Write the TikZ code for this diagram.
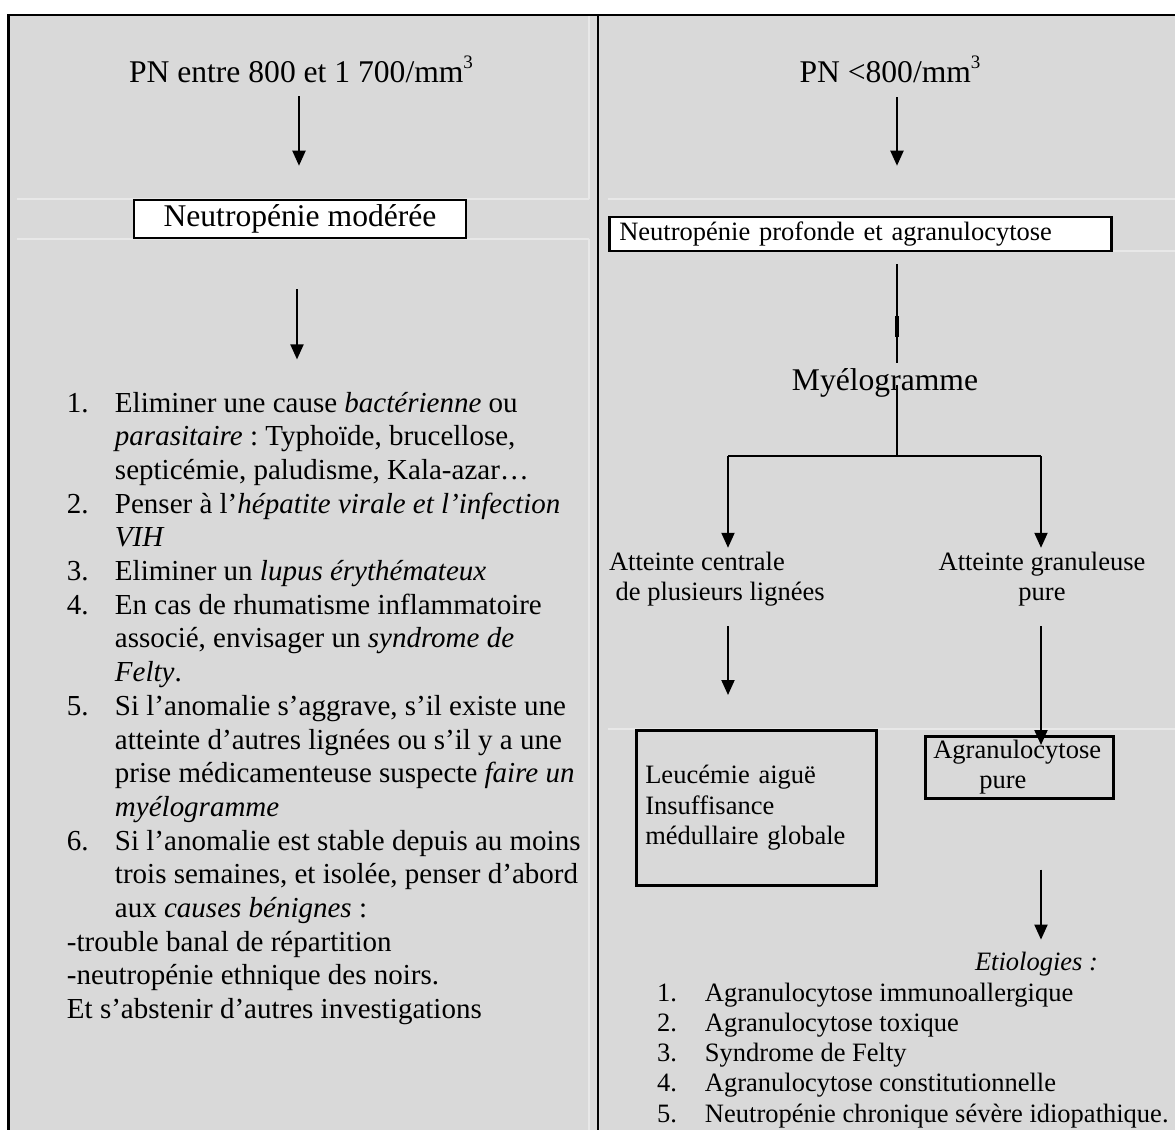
\documentclass[tikz,border=0pt]{standalone}
\usepackage{fontspec}
\setmainfont{Liberation Serif}
\usetikzlibrary{arrows.meta,calc}

\definecolor{cellgray}{HTML}{D9D9D9}
\definecolor{cellline}{HTML}{E8E8E8}
\newcommand{\cubed}{\raisebox{0.42em}{\fontsize{9.5}{9.5}\selectfont 3}}

\begin{document}
\frenchspacing
\begin{tikzpicture}[
  x=0.5pt, y=-0.5pt,
  >={Triangle[length=7.5pt,width=6.5pt]},
  line width=1pt,
  big/.style={inner sep=0pt, font=\fontsize{15.8}{18}\selectfont},
  lst/.style={inner sep=0pt, font=\fontsize{14.5}{16.85}\selectfont},
  sml/.style={inner sep=0pt, font=\fontsize{13.25}{15.15}\selectfont},
  box/.style={draw, line width=1.3pt},
  arr/.style={->, line width=1pt},
  faint/.style={draw=cellline, line width=0.6pt},
]
  \useasboundingbox (0,0) rectangle (1175,1130);
  \clip (0,0) rectangle (1175,1130);

  % shaded table and its faint inner cell borders
  \fill[cellgray] (8.5,15) rectangle (1190,1140);
  \path[faint] (17,199) -- (589,199) (17,239) -- (589,239)
    (589,15) -- (589,199) (589,239) -- (589,1140);
  \path[faint] (608,199) -- (1190,199) (608,251) -- (1190,251)
    (608,729) -- (1190,729);
  \draw[line width=1.4pt] (8.5,1140) -- (8.5,15) -- (1190,15);
  \draw[line width=1.4pt] (598,15) -- (598,1140);

  % left column
  \node[big, anchor=base] (pnmod) at (301,82) {PN entre 800 et 1 700/mm\cubed};
  \node[box, big, fill=white, minimum width=166pt, minimum height=19pt] (mod) at (300,219)
    {Neutropénie modérée};
  \node[lst, anchor=base west] (elim) at (66,412) {\begin{tabular}[t]{@{}p{24pt}@{}l@{}}
    1. & Eliminer une cause \textit{bactérienne} ou\\
       & \textit{parasitaire} : Typhoïde, brucellose,\\
       & septicémie, paludisme, Kala-azar…\\
    2. & Penser à l’\textit{hépatite virale et l’infection}\\
       & \textit{VIH}\\
    3. & Eliminer un \textit{lupus érythémateux}\\
    4. & En cas de rhumatisme inflammatoire\\
       & associé, envisager un \textit{syndrome de}\\
       & \textit{Felty}.\\
    5. & Si l’anomalie s’aggrave, s’il existe une\\
       & atteinte d’autres lignées ou s’il y a une\\
       & prise médicamenteuse suspecte \textit{faire un}\\
       & \textit{myélogramme}\\
    6. & Si l’anomalie est stable depuis au moins\\
       & trois semaines, et isolée, penser d’abord\\
       & aux \textit{causes bénignes} :\\
    \multicolumn{2}{@{}l@{}}{-trouble banal de répartition}\\
    \multicolumn{2}{@{}l@{}}{-neutropénie ethnique des noirs.}\\
    \multicolumn{2}{@{}l@{}}{Et s’abstenir d’autres investigations}
  \end{tabular}};

  \draw[arr] ($(pnmod.base)+(-2,14)$) -- ($(mod.north)+(-1,-33)$);
  \draw[arr] ($(mod.south)+(-3,50)$) -- ($(mod.south |- elim.north)+(-3,-28)$);

  % right column
  \node[big, anchor=base] (pnsev) at (890,82) {PN <800/mm\cubed};
  \node[box, sml, fill=white, anchor=west, align=left, text width=241pt, inner xsep=5pt,
    minimum height=17pt] (prof) at (608,234) {Neutropénie profonde et agranulocytose};
  \node[big, anchor=base] (myelo) at (885,390) {Myélogramme};
  \coordinate (fork) at (897,456);
  \coordinate (forkl) at (728,456);
  \coordinate (forkr) at (1041,456);

  \node[sml, anchor=base west] (cent) at (608,570)
    {\begin{tabular}[t]{@{}l@{}}Atteinte centrale\\~de plusieurs lignées\end{tabular}};
  \node[sml, anchor=base] (gran) at (1042,570)
    {\begin{tabular}[t]{@{}c@{}}Atteinte granuleuse\\pure\end{tabular}};
  \node[box, sml, anchor=north west, align=left, text width=111pt, inner xsep=4.5pt,
    minimum height=77.5pt] (leuc) at (635,729) {Leucémie aiguë\\Insuffisance\\médullaire globale};
  \node[box, sml, anchor=north west, align=left, text width=86pt, inner xsep=4pt,
    minimum height=31pt] (agra) at (924,735) {Agranulocytose\\\hspace*{23pt}pure};
  \node[sml, anchor=base west] (etio) at (974,970) {\textit{Etiologies :}};
  \node[sml, anchor=base west] (causes) at (656,1001) {\begin{tabular}[t]{@{}p{24pt}@{}l@{}}
    1. & Agranulocytose immunoallergique\\
    2. & Agranulocytose toxique\\
    3. & Syndrome de Felty\\
    4. & Agranulocytose constitutionnelle\\
    5. & Neutropénie chronique sévère idiopathique.
  \end{tabular}};

  \draw[arr] ($(pnsev.base -| fork)+(0,15)$) -- ($(prof.north -| fork)+(0,-50)$);
  \draw ($(prof.south -| fork)+(0,12)$) -- ($(myelo.base -| fork)+(0,-27)$);
  \draw[line width=1.7pt] ($(prof.south -| fork)+(0,64)$) -- ++(0,21);
  \draw ($(myelo.base -| fork)+(0,-5)$) -- (fork);
  \draw (forkl) -- (forkr);
  \draw[arr] (forkl) -- (forkl |- cent.north);
  \draw[arr] (forkr) -- (forkr |- gran.north);
  \draw[arr] ($(cent.south -| forkl)+(0,16)$) -- ($(leuc.north -| forkl)+(0,-34)$);
  \draw[arr] ($(gran.south -| forkr)+(0,16)$) -- ($(agra.north -| forkr)+(0,10)$);
  \draw[arr] ($(agra.south -| forkr)+(0,70)$) -- ($(etio.north -| forkr)+(0,-11)$);
\end{tikzpicture}
\end{document}
